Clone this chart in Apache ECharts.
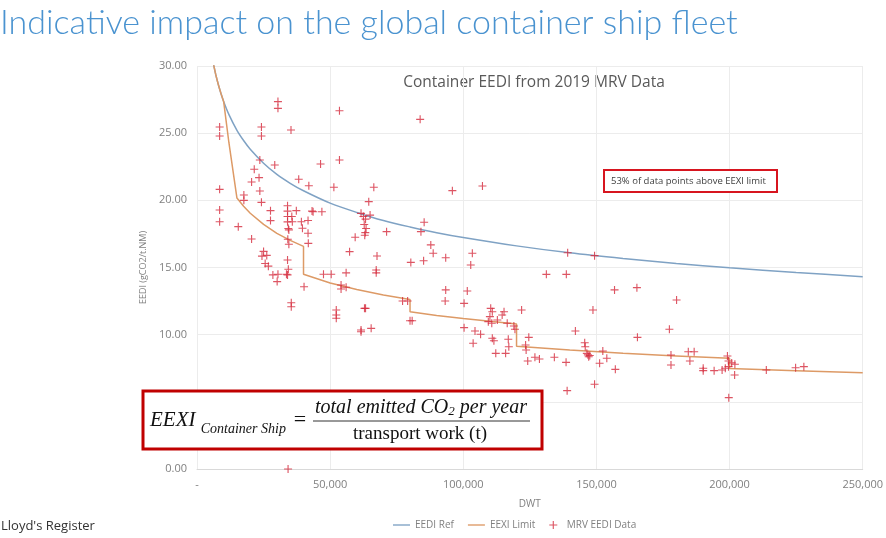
<!DOCTYPE html>
<html>
<head>
<meta charset="utf-8">
<script src="https://cdn.jsdelivr.net/npm/echarts@6/dist/echarts.min.js"></script>
<style>
  html, body { margin: 0; padding: 0; background: #fff; }
  #chart { width: 886px; height: 538px; }
</style>
</head>
<body>
<div id="chart"></div>
<script>
// EEDI reference line (DWT, gCO2/t.NM)
var eediRef = [
    [6000, 30.33], [7000, 29.39], [8000, 28.62], [9000, 27.95], [10000, 27.36],
    [12000, 26.38], [15000, 25.21], [17500, 24.45], [20000, 23.80], [25000, 22.76],
    [30000, 21.93], [35000, 21.27], [40000, 20.71], [50000, 19.79], [60000, 19.10],
    [70000, 18.50], [80000, 18.02], [90000, 17.59], [100000, 17.23], [120000, 16.61],
    [140000, 16.09], [160000, 15.67], [180000, 15.30], [200000, 14.98], [225000, 14.63],
    [250000, 14.32]
];

// EEXI limit (stepped)
var eexiLimit = [
    [6000, 30.33], [7000, 29.39], [8000, 28.62], [9000, 27.95], [10000, 27.36],
    [12000, 24.27], [15000, 20.17], [17500, 19.56], [20000, 19.04], [25000, 18.21],
    [30000, 17.54], [35000, 17.02], [40000, 16.57], [40000, 14.50], [50000, 13.85],
    [60000, 13.37], [70000, 12.95], [80000, 12.61], [80000, 11.71], [90000, 11.43],
    [100000, 11.20], [120000, 10.80], [120000, 9.14], [140000, 8.85], [160000, 8.62],
    [180000, 8.42], [200000, 8.24], [200000, 7.49], [225000, 7.32], [250000, 7.16]
];

// MRV 2019 data points
var mrvData = [
    [8500, 25.46], [8500, 24.79], [8500, 20.82], [8500, 19.28], [8500, 18.41],
    [15500, 18.04], [20500, 17.12], [17600, 20.40], [17600, 20.00], [21500, 22.31], [23600, 23.00],
    [24200, 25.46], [24200, 24.79], [20500, 21.36], [23300, 21.69], [23600, 20.69], [24200, 19.85],
    [27600, 19.23], [27600, 18.49], [29200, 22.63], [30400, 27.35], [30400, 26.85], [35300, 25.24],
    [34000, 19.60], [34000, 19.20], [34000, 18.80], [34000, 18.40], [34300, 17.90], [35600, 18.80],
    [35800, 18.41], [34500, 17.80], [37300, 19.23], [38200, 21.57], [39200, 18.41], [39600, 17.92],
    [42000, 21.09], [41700, 17.55], [41700, 18.50], [43200, 19.20], [43600, 19.15], [46400, 22.70],
    [46900, 19.15], [51400, 20.97], [53500, 26.67], [53500, 23.00], [59400, 17.25], [57300, 16.18],
    [66400, 20.97], [64500, 19.90], [61600, 19.03], [62500, 18.80], [63300, 18.60], [62800, 18.20],
    [63500, 17.90], [63200, 17.60], [63000, 17.40], [65000, 18.90], [71200, 17.67],
    [25000, 16.20], [24400, 15.85], [26200, 15.90], [25600, 15.30], [26800, 15.10],
    [28500, 14.45], [30400, 14.50], [30100, 13.95], [34000, 15.56], [34300, 14.87], [34000, 14.45],
    [33600, 14.50], [35400, 12.38], [35400, 12.08], [34500, 16.73], [34100, 17.10], [41800, 16.80],
    [40200, 13.57], [47500, 14.50], [50400, 14.50], [52300, 11.84], [52300, 11.46], [52300, 11.22],
    [54100, 13.70], [56000, 13.53], [54100, 13.40], [56000, 14.60], [61600, 10.35], [61600, 10.22],
    [62900, 11.96], [63300, 11.96], [65400, 10.47], [67600, 15.86], [67300, 14.81], [67300, 14.60],
    [83800, 26.03], [95900, 20.72], [85300, 18.37], [84100, 17.67], [87800, 16.68], [88700, 16.06],
    [93400, 15.73], [80300, 15.38], [85100, 15.50], [93400, 13.33], [101500, 13.25], [93200, 12.51],
    [100300, 12.33], [77200, 12.51], [79100, 12.51], [80000, 11.04], [80800, 11.04], [100300, 10.52],
    [107200, 21.07], [103400, 16.06], [102800, 15.19], [131200, 14.49], [138700, 14.49], [139200, 16.10],
    [149300, 15.88], [156800, 13.33], [165200, 13.50], [180100, 12.58], [148700, 11.84], [177400, 10.40],
    [165400, 9.80], [110300, 11.96], [110900, 11.71], [110000, 11.34], [109400, 10.97], [110700, 10.85],
    [115300, 11.71], [114600, 11.46], [112800, 11.09], [116500, 10.85], [119000, 10.65], [119400, 10.40],
    [121900, 11.84], [104400, 10.27], [106500, 10.03], [110900, 9.73], [111500, 9.55], [116900, 9.66],
    [117100, 9.10], [115900, 8.61], [112200, 8.61], [103700, 9.36], [123400, 9.23], [123600, 8.86],
    [124600, 9.80], [124200, 8.04], [126900, 8.32], [128600, 8.19], [134200, 8.32], [138600, 7.94],
    [142100, 10.27], [145600, 9.40], [145800, 9.10], [146400, 8.61], [147100, 8.36], [146800, 8.50],
    [147500, 8.45], [152400, 8.78], [153900, 8.24], [151200, 7.87], [157100, 7.42], [149300, 6.31],
    [139000, 5.83], [178000, 8.49], [178000, 7.74], [184500, 8.73], [186700, 8.73], [185100, 8.04],
    [190100, 7.50], [190100, 7.32], [194200, 7.32], [197200, 7.37], [198400, 7.50], [199600, 7.62],
    [199200, 8.41], [199600, 8.04], [200800, 7.90], [202000, 7.80], [201900, 7.00], [199700, 5.31],
    [213800, 7.37], [224800, 7.54], [227900, 7.62], [34200, 0.0]
];

var seriesNames = ['EEDI Ref', 'EEXI Limit', 'MRV EEDI Data'];

var plusIcon = 'path://M4.3,0h1.4v4.3h4.3v1.4h-4.3v4.3h-1.4v-4.3h-4.3v-1.4h4.3z';
var lineIcon = 'path://M0,0h20v1.6h-20z';

var myChart = echarts.init(document.getElementById('chart'));

var option = {
    backgroundColor: '#fff',
    animation: false,
    grid: {
        left: 197,
        right: 21,
        top: 66,
        bottom: 69
    },
    legend: {
        bottom: 3,
        left: 388,
        itemWidth: 17,
        itemHeight: 8,
        itemGap: 14,
        textStyle: { color: '#808080', fontSize: 10, fontFamily: 'Open Sans' },
        data: [
            { name: seriesNames[0], icon: lineIcon },
            { name: seriesNames[1], icon: lineIcon },
            { name: seriesNames[2], icon: plusIcon }
        ]
    },
    xAxis: {
        type: 'value',
        min: 0,
        max: 250000,
        interval: 50000,
        name: 'DWT',
        nameLocation: 'middle',
        nameGap: 30,
        nameTextStyle: { color: '#808080', fontSize: 10, fontFamily: 'Open Sans' },
        axisLine: { show: true, lineStyle: { color: '#d9d9d9' } },
        axisTick: { show: false },
        axisLabel: {
            color: '#808080',
            fontSize: 11,
            fontFamily: 'Open Sans',
            margin: 10,
            formatter: function (v) {
                return v === 0 ? '-' : v.toLocaleString('en-US');
            }
        },
        splitLine: { show: true, lineStyle: { color: '#ececec' } }
    },
    yAxis: {
        type: 'value',
        min: 0,
        max: 30,
        interval: 5,
        name: 'EEDI (gCO2/t.NM)',
        nameLocation: 'middle',
        nameGap: 37,
        nameTextStyle: { color: '#808080', fontSize: 9, fontFamily: 'Open Sans' },
        axisLine: { show: false },
        axisTick: { show: false },
        axisLabel: {
            color: '#808080',
            fontSize: 11,
            fontFamily: 'Open Sans',
            margin: 10,
            formatter: function (v) { return v.toFixed(2); }
        },
        splitLine: { show: true, lineStyle: { color: '#ececec' } }
    },
    series: [
        {
            name: seriesNames[0],
            type: 'line',
            data: eediRef,
            smooth: 0.3,
            showSymbol: false,
            color: '#7fa2c4',
            lineStyle: { width: 1.5, color: '#7fa2c4' },
            z: 2
        },
        {
            name: seriesNames[1],
            type: 'line',
            data: eexiLimit,
            showSymbol: false,
            color: '#dd9a66',
            lineStyle: { width: 1.5, color: '#dd9a66' },
            z: 3
        },
        {
            name: seriesNames[2],
            type: 'scatter',
            data: mrvData,
            symbol: plusIcon,
            symbolSize: 8,
            color: '#d42a3c',
            itemStyle: { color: '#d42a3c' },
            z: 4
        }
    ],
    graphic: [
        {
            type: 'text',
            left: 0,
            top: 6,
            style: {
                text: 'Indicative impact on the global container ship fleet',
                fill: '#4a93d0',
                font: '300 34px Lato'
            }
        },
        {
            type: 'text',
            x: 534,
            y: 83,
            style: {
                text: 'Container EEDI from 2019 MRV Data',
                fill: '#595959',
                font: '15.5px "Open Sans"',
                align: 'center',
                verticalAlign: 'middle'
            }
        },
        {
            type: 'rect',
            z: 100,
            shape: { x: 604, y: 170, width: 173, height: 22 },
            style: { fill: '#fff', stroke: '#d7151f', lineWidth: 2 }
        },
        {
            type: 'text',
            z: 101,
            x: 611,
            y: 181,
            style: {
                text: '53% of data points above EEXI limit',
                fill: '#404040',
                font: '9.5px "Open Sans"',
                verticalAlign: 'middle'
            }
        },
        {
            type: 'rect',
            z: 100,
            shape: { x: 143, y: 391, width: 399, height: 58 },
            style: { fill: '#fff', stroke: '#c00000', lineWidth: 3 }
        },
        {
            type: 'text',
            z: 101,
            x: 150,
            y: 420,
            style: {
                text: '{a|EEXI }{b|Container Ship}',
                verticalAlign: 'middle',
                rich: {
                    a: { font: 'italic 21px "Liberation Serif"', fill: '#111', verticalAlign: 'bottom' },
                    b: { font: 'italic 14px "Liberation Serif"', fill: '#111', verticalAlign: 'bottom', padding: [0, 0, -6, 0] }
                }
            }
        },
        {
            type: 'text',
            z: 101,
            x: 300,
            y: 420,
            style: {
                text: '=',
                font: '22px "Liberation Serif"',
                fill: '#111',
                align: 'center',
                verticalAlign: 'middle'
            }
        },
        {
            type: 'text',
            z: 101,
            x: 421,
            y: 408,
            style: {
                text: '{a|total emitted CO}{s|2}{a| per year}',
                align: 'center',
                verticalAlign: 'middle',
                rich: {
                    a: { font: 'italic 20px "Liberation Serif"', fill: '#111' },
                    s: { font: 'italic 13px "Liberation Serif"', fill: '#111', padding: [8, 0, 0, 0] }
                }
            }
        },
        {
            type: 'line',
            z: 101,
            shape: { x1: 313, y1: 421, x2: 530, y2: 421 },
            style: { stroke: '#333', lineWidth: 1 }
        },
        {
            type: 'text',
            z: 101,
            x: 420,
            y: 434,
            style: {
                text: 'transport work (t)',
                font: '19px "Liberation Serif"',
                fill: '#111',
                align: 'center',
                verticalAlign: 'middle'
            }
        },
        {
            type: 'text',
            left: 1,
            top: 520,
            style: {
                text: "Lloyd's Register",
                fill: '#333',
                font: '13px "Open Sans"'
            }
        }
    ]
};
myChart.setOption(option);
</script>
</body>
</html>
